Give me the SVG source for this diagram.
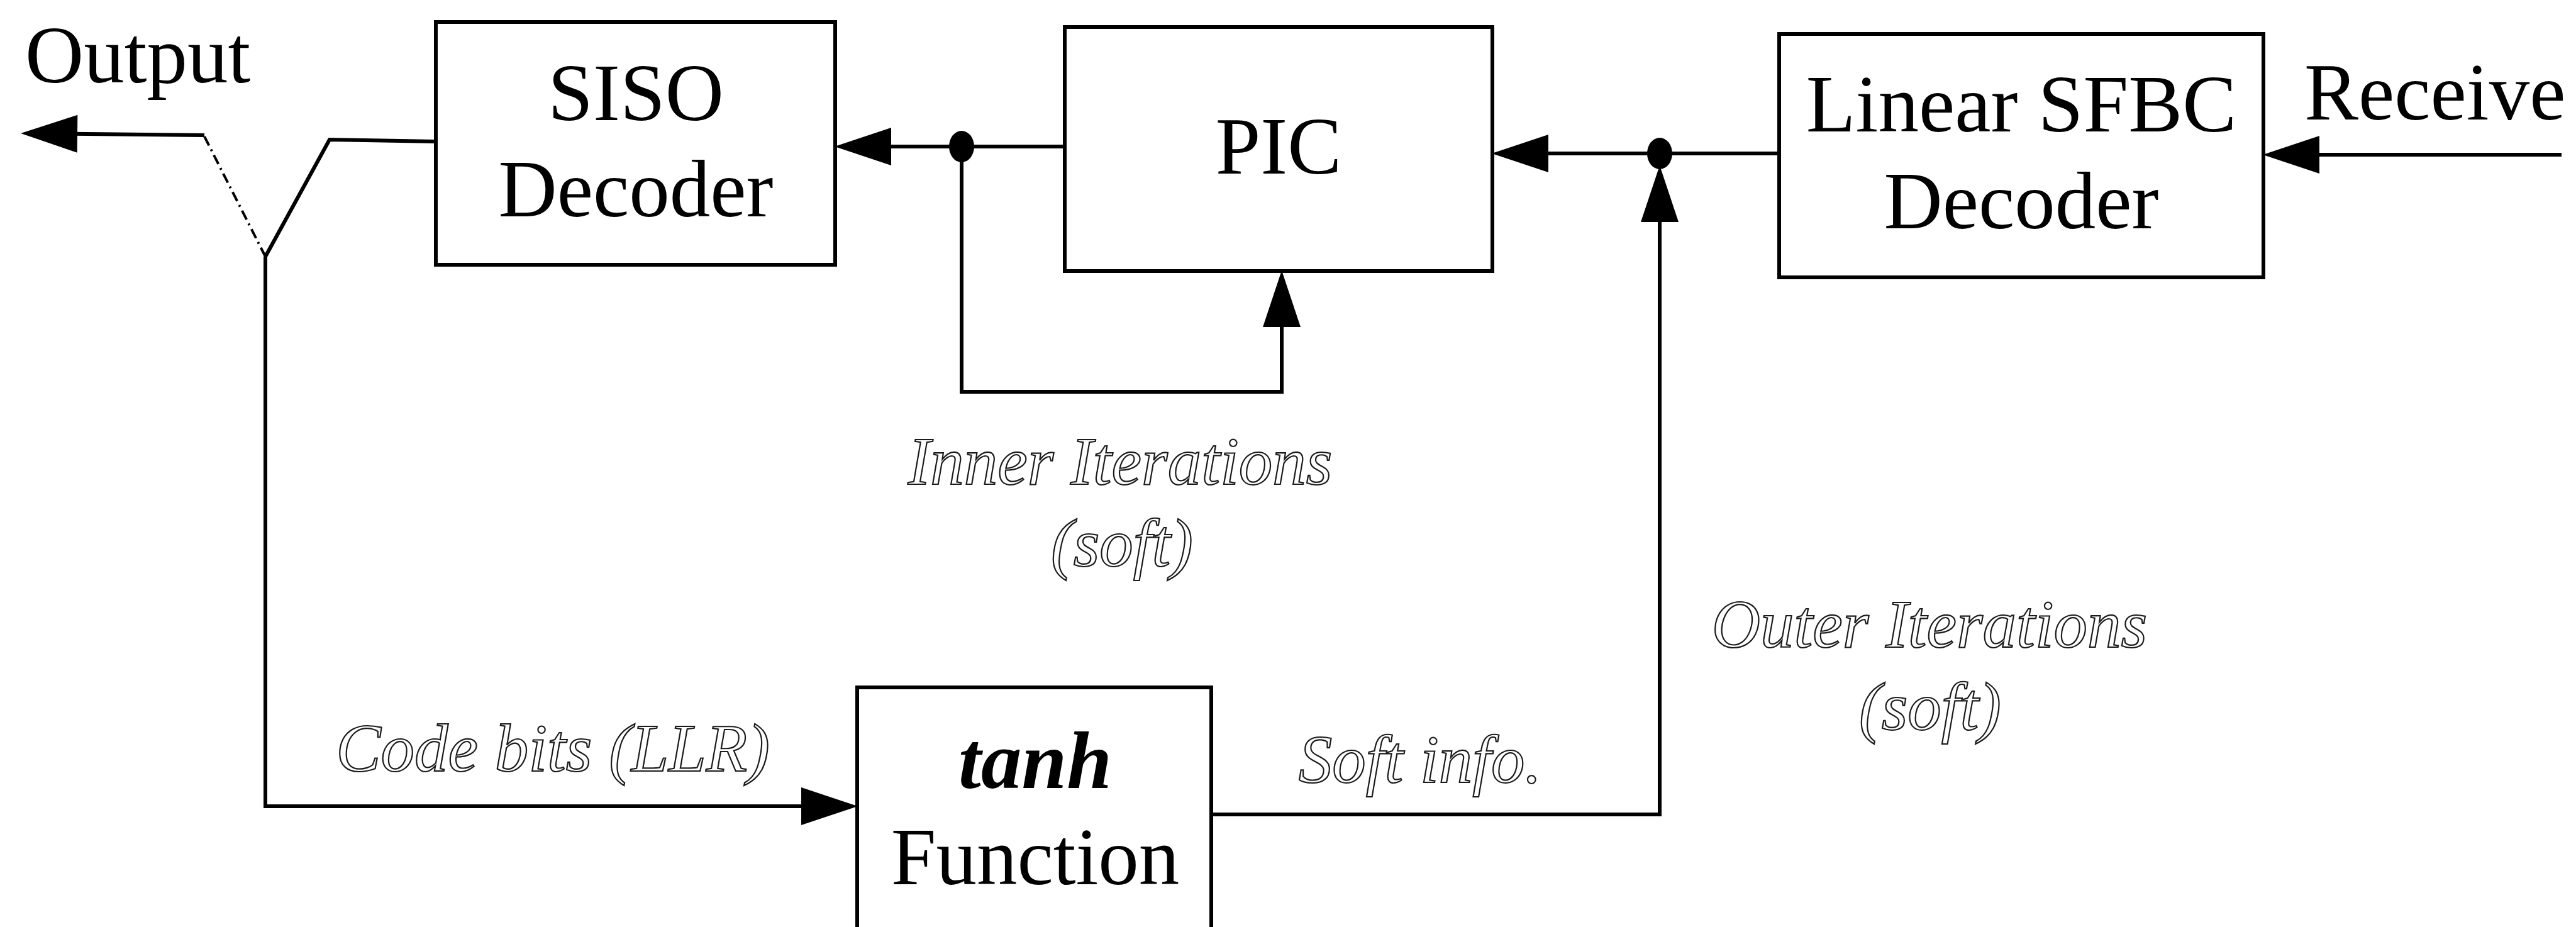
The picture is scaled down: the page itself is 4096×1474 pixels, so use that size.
<svg xmlns="http://www.w3.org/2000/svg" width="4096" height="1474" viewBox="0 0 4096 1474">
  <style>
    .box { fill: #ffffff; stroke: #000000; stroke-width: 6; }
    .lbl { font-family: "Liberation Serif", "Times New Roman", serif; font-size: 129px; fill: #000000; text-anchor: middle; }
    .lbl-start { font-family: "Liberation Serif", "Times New Roman", serif; font-size: 129px; fill: #000000; }
    .note { font-family: "Liberation Serif", "Times New Roman", serif; font-style: italic; font-size: 107px; fill: #ffffff; stroke: #1a1a1a; stroke-width: 2.2; text-anchor: middle; }
    .wire { fill: none; stroke: #000000; stroke-width: 6; stroke-linejoin: miter; }
    .wire-dash { fill: none; stroke: #000000; stroke-width: 4; stroke-dasharray: 16 7 3 7; }
    .dot { fill: #000000; }
  </style>
  <defs>
    <marker id="arrow" markerUnits="userSpaceOnUse" markerWidth="92" markerHeight="62" refX="80" refY="31" orient="auto">
      <path d="M1,1 L91,31 L1,61 Z" fill="#000000"/>
    </marker>
  </defs>

  <rect width="4096" height="1474" fill="#ffffff"/>

  <!-- connectors -->
  <g id="connectors">
    <!-- receive input into linear decoder -->
    <path class="wire" d="M4073,246 L3609,246" marker-end="url(#arrow)"/>
    <!-- linear decoder to PIC through junction -->
    <path class="wire" d="M2829,244 L2383,244" marker-end="url(#arrow)"/>
    <!-- PIC to SISO decoder through junction -->
    <path class="wire" d="M1693,233 L1338,233" marker-end="url(#arrow)"/>
    <!-- inner feedback loop into PIC -->
    <path class="wire" d="M1529,233 L1529,623 L2038,623 L2038,441" marker-end="url(#arrow)"/>
    <!-- outer feedback from tanh block up to junction -->
    <path class="wire" d="M1926,1295 L2639,1295 L2639,274" marker-end="url(#arrow)"/>
    <!-- SISO output to switch -->
    <path class="wire" d="M693,225 L524,222 L422,408"/>
    <!-- switch pole down to tanh block -->
    <path class="wire" d="M422,408 L422,1282 L1353,1282" marker-end="url(#arrow)"/>
    <!-- open switch contact to output -->
    <path class="wire-dash" d="M422,408 L325,217"/>
    <path class="wire" d="M325,215 L44,212" marker-end="url(#arrow)"/>
    <!-- junction dots -->
    <ellipse class="dot" cx="1529" cy="233" rx="20" ry="25"/>
    <ellipse class="dot" cx="2639" cy="244" rx="20" ry="25"/>
  </g>

  <!-- nodes -->
  <g id="siso-decoder">
    <rect class="box" x="693" y="35" width="635" height="386"/>
    <text class="lbl" x="1011" y="191">SISO</text>
    <text class="lbl" x="1011" y="344">Decoder</text>
  </g>

  <g id="pic">
    <rect class="box" x="1693" y="43" width="680" height="388"/>
    <text class="lbl" x="2033" y="276">PIC</text>
  </g>

  <g id="linear-sfbc-decoder">
    <rect class="box" x="2829" y="54" width="770" height="387"/>
    <text class="lbl" x="3214" y="209">Linear SFBC</text>
    <text class="lbl" x="3214" y="363">Decoder</text>
  </g>

  <g id="tanh-function">
    <rect class="box" x="1363" y="1093" width="563" height="450"/>
    <text class="lbl" x="1646" y="1253" font-weight="bold" font-style="italic">tanh</text>
    <text class="lbl" x="1646" y="1406">Function</text>
  </g>

  <!-- terminal labels -->
  <g id="output-label">
    <text class="lbl-start" x="40" y="131">Output</text>
  </g>
  <g id="receive-label">
    <text class="lbl-start" x="3664" y="190">Receive</text>
  </g>

  <!-- loop annotations -->
  <g id="inner-iterations">
    <text class="note" x="1781" y="770">Inner Iterations</text>
    <text class="note" x="1784" y="900">(soft)</text>
  </g>
  <g id="outer-iterations">
    <text class="note" x="3068" y="1029">Outer Iterations</text>
    <text class="note" x="3069" y="1160">(soft)</text>
  </g>
  <g id="code-bits">
    <text class="note" x="879" y="1226">Code bits (LLR)</text>
  </g>
  <g id="soft-info">
    <text class="note" x="2258" y="1244">Soft info.</text>
  </g>
</svg>
